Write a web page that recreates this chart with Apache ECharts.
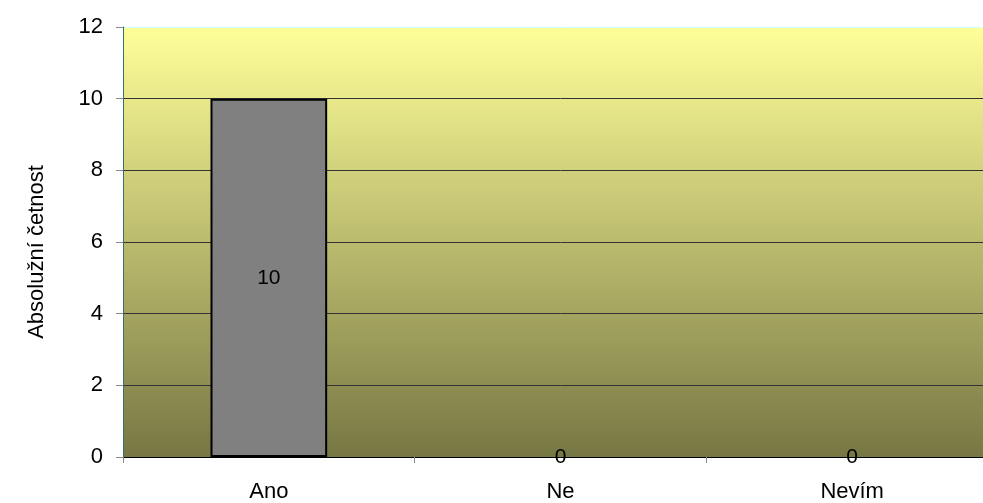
<!DOCTYPE html>
<html><head><meta charset="utf-8">
<script src="https://cdn.jsdelivr.net/npm/echarts@6/dist/echarts.min.js"></script>
<style>html,body{margin:0;padding:0;background:#fff;overflow:hidden;width:983px;height:503px}#c{width:998px;height:503px}</style>
</head><body><div id="c"></div>
<script>
var categories = ['Ano', 'Ne', 'Nevím'];
var values = [10, 0, 0];
var yTitle = 'Absolužní četnost';

var chart = echarts.init(document.getElementById('c'));
var F = 'Liberation Sans, Arial, sans-serif';
chart.setOption({
  animation: false,
  grid: {left: 123, right: 0, top: 27, height: 430, show: true, borderWidth: 0,
    backgroundColor: new echarts.graphic.LinearGradient(0, 0, 0, 1, [
      {offset: 0, color: '#ffff99'}, {offset: 1, color: '#777744'}])},
  xAxis: {type: 'category', data: categories,
    axisLine: {show: true, lineStyle: {color: '#000', width: 1}},
    axisTick: {show: true, length: 6, lineStyle: {color: '#888'}},
    axisLabel: {color: '#000', fontFamily: F, fontSize: 22, margin: 24}},
  yAxis: {type: 'value', min: 0, max: 12, interval: 2,
    name: yTitle, nameLocation: 'middle', nameGap: 75,
    nameTextStyle: {color: '#000', fontFamily: F, fontSize: 22, padding: [0, 20, 0, 0]},
    axisLine: {show: true, lineStyle: {color: '#3a6e6e', width: 1}},
    axisTick: {show: true, length: 7, lineStyle: {color: '#888'}},
    axisLabel: {color: '#000', fontFamily: F, fontSize: 22, margin: 20},
    splitLine: {show: true, lineStyle: {color: ['#000', '#333', '#333', '#333', '#333', '#333', '#ccffff'], width: 1}}},
  series: [{type: 'bar', barWidth: '40%',
    data: values.map(function (v) { return {value: v, itemStyle: {borderWidth: v === 0 ? 0 : 2}}; }),
    itemStyle: {color: '#808080', borderColor: '#000', borderWidth: 2},
    label: {show: true, position: 'inside', color: '#000', fontFamily: F, fontSize: 21}}]
});
</script></body></html>
